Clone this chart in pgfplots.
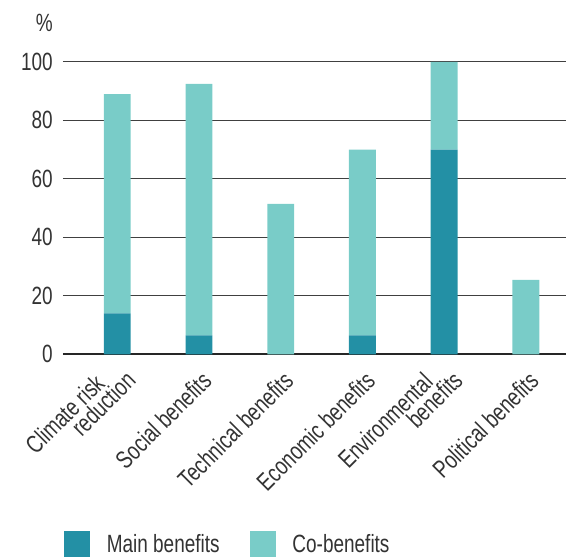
\documentclass[border=0pt]{standalone}
\usepackage{pgfplots}
\pgfplotsset{compat=1.18}
\usepackage{fontspec}
\setmainfont{Liberation Sans}[FakeStretch=0.76]
\definecolor{mainb}{HTML}{2390A5}
\definecolor{cob}{HTML}{79CCC8}
\definecolor{txt}{HTML}{333333}
\begin{document}
\begin{tikzpicture}
\begin{axis}[
  at={(0,0)}, anchor=south west,
  scale only axis,
  width=504bp, height=293bp,
  xmin=-0.665, xmax=5.49,
  ymin=0, ymax=100,
  ybar stacked, bar width=27bp,
  xtick={1,2,3,5},
  xticklabels={Social benefits,Technical benefits,Economic benefits,Political benefits},
  extra x ticks={0,4},
  extra x tick labels={{Climate risk\hspace*{24bp}\\reduction},{Environmental\hspace*{22bp}\\benefits}},
  extra x tick style={grid=none, xticklabel style={xshift=4.2bp, yshift=6.2bp}},
  ytick={0,20,40,60,80,100},
  major tick length=0pt,
  axis x line=bottom, axis y line=left,
  x axis line style={line width=2bp, black!85, -},
  y axis line style={draw=none},
  ymajorgrids,
  grid style={line width=1bp, black!75},
  tick label style={font=\fontsize{25bp}{20bp}\selectfont, text=txt},
  /pgf/number format/assume math mode=true,
  yticklabel style={inner sep=0pt, xshift=-10bp},
  xticklabel style={inner sep=0pt, xshift=8bp, yshift=-22bp, rotate=45, anchor=east, align=right},
  legend style={at={(0.002,-0.693)}, anchor=south west, draw=none, inner sep=0pt, outer sep=0pt,
    font=\fontsize{25bp}{27bp}\selectfont, text=txt,
    legend columns=2,
    /tikz/every odd column/.style={column sep=17bp},
    /tikz/every even column/.style={column sep=30bp},
    nodes={inner sep=0pt}},
  legend image code/.code={\fill[#1] (0bp,-13bp) rectangle (26bp,13bp);},
  clip=false,
]
\addplot[fill=mainb, draw=none] coordinates {(0,14) (1,6.5) (2,0) (3,6.5) (4,70) (5,0)};
\addplot[fill=cob, draw=none] coordinates {(0,75) (1,86) (2,51.5) (3,63.5) (4,30) (5,25.5)};
\legend{Main benefits, Co-benefits}
\node[anchor=base east, inner sep=0pt, font=\fontsize{25bp}{27bp}\selectfont, text=txt] at ([xshift=-10bp, yshift=30bp]rel axis cs:0,1) {\%};
\end{axis}
\path[use as bounding box] (-63bp,-203bp) rectangle (504bp,355bp);
\end{tikzpicture}
\end{document}
